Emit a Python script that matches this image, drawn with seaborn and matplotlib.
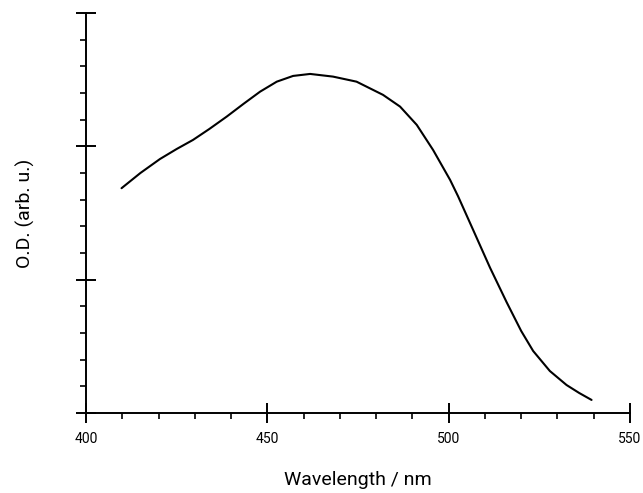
import matplotlib
matplotlib.use("Agg")
import matplotlib.pyplot as plt
import seaborn as sns
import pandas as pd
from matplotlib.ticker import MultipleLocator, NullFormatter

wavelength = [409.8, 415.0, 420.4, 425.0, 429.5, 434.0, 438.8, 443.5, 448.0,
              452.6, 457.1, 461.8, 468.1, 474.6, 481.9, 486.6, 491.2, 495.7,
              500.4, 502.6, 506.8, 511.4, 516.0, 520.0, 523.3, 527.9, 532.5,
              536.0, 539.4]
od = [1.686, 1.80, 1.905, 1.98, 2.048, 2.13, 2.223, 2.32, 2.410,
      2.485, 2.528, 2.543, 2.523, 2.485, 2.386, 2.298, 2.161, 1.973,
      1.748, 1.625, 1.37, 1.09, 0.83, 0.615, 0.465, 0.315, 0.210,
      0.150, 0.098]
x_ticks = [400, 450, 500, 550]

df = pd.DataFrame({"wavelength": wavelength, "od": od})

sns.set_style("ticks")
plt.rcParams["font.family"] = ["Roboto", "DejaVu Sans"]
plt.rcParams["text.color"] = "black"
plt.rcParams["axes.labelcolor"] = "black"
plt.rcParams["xtick.color"] = "black"
plt.rcParams["ytick.color"] = "black"

fig = plt.figure(figsize=(6.43, 4.93), dpi=100)
ax = fig.add_axes([86/643, 1 - 413/493, (630-86)/643, (413-13)/493])

sns.lineplot(data=df, x="wavelength", y="od", ax=ax, color="black",
             linewidth=1.5, estimator=None, sort=True)

ax.set_xlim(400, 550)
ax.set_ylim(0, 3)
ax.set_xticks(x_ticks)
ax.set_xticklabels([str(t) for t in x_ticks], fontsize=10, color="black")
ax.xaxis.set_minor_locator(MultipleLocator(10))
ax.set_yticks([0, 1, 2, 3])
ax.yaxis.set_minor_locator(MultipleLocator(0.2))
ax.yaxis.set_major_formatter(NullFormatter())

ax.tick_params(which="major", direction="inout", length=14, width=1.4, color="black")
ax.tick_params(which="minor", direction="out", length=4, width=1.2, color="black")
ax.tick_params(axis="x", which="major", pad=7)

for s in ["top", "right"]:
    ax.spines[s].set_visible(False)
for s in ["left", "bottom"]:
    ax.spines[s].set_linewidth(1.4)
    ax.spines[s].set_color("black")

ax.set_xlabel("Wavelength / nm", fontsize=14, labelpad=18, color="black")
ax.set_ylabel("O.D. (arb. u.)", fontsize=14, labelpad=26, color="black")

fig.savefig("out.png", dpi=100)
